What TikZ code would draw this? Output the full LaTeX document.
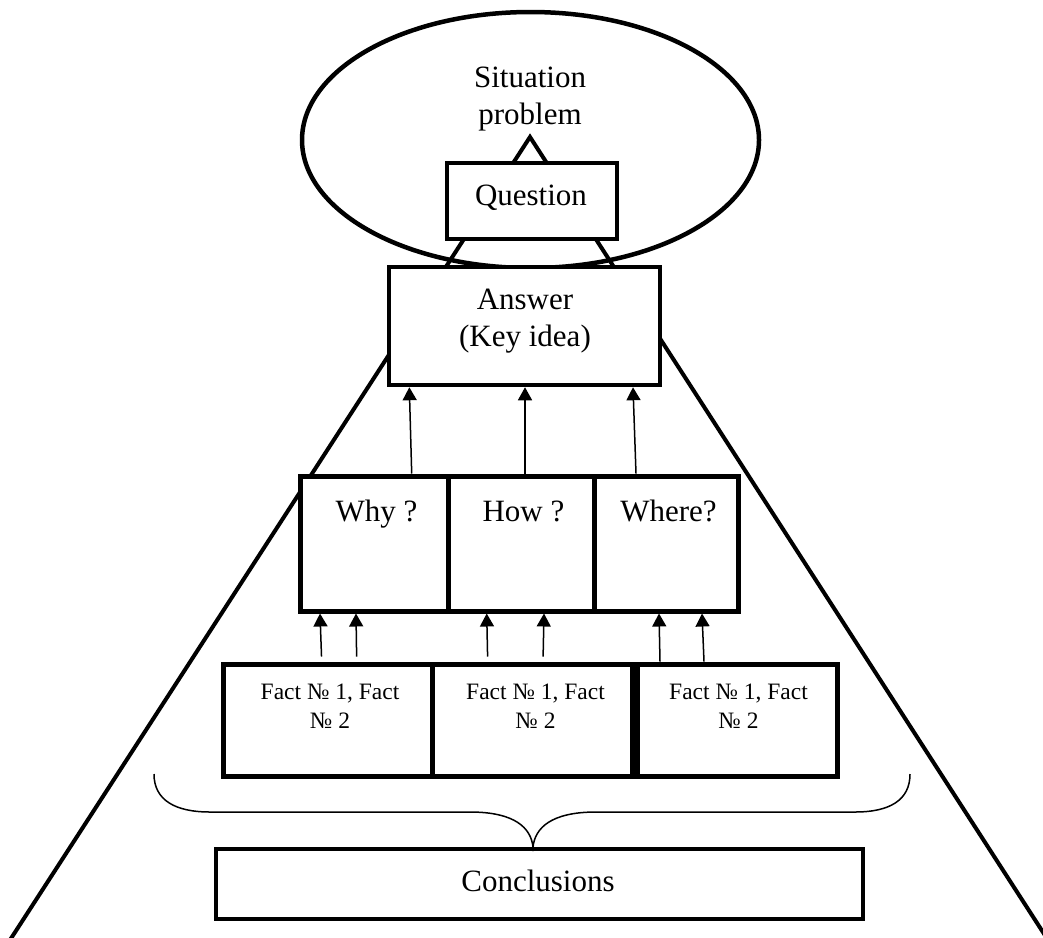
\documentclass[tikz,border=0pt]{standalone}
\usepackage{fontspec}
\setmainfont{Liberation Serif}
\usetikzlibrary{shapes.geometric,arrows.meta}
\tikzset{
  big/.style={font=\fontsize{31}{37.5}\selectfont, inner sep=0pt, align=center},
  small/.style={font=\fontsize{23.5}{29}\selectfont, inner sep=0pt, align=center},
  boxw/.style={draw, fill=white, line width=4.5pt, rectangle, inner sep=0pt},
  thin arrow/.style={line width=1.5pt, -{Triangle[length=13pt,width=14pt]}},
  frame line/.style={line width=4pt}
}
\begin{document}
\begin{tikzpicture}[x=1pt,y=-1pt]
\useasboundingbox (0,0) rectangle (1043,937);
\clip (0,0) rectangle (1043,937);
% big triangle behind everything
\coordinate (apex) at (530,137);
\coordinate (lfoot) at (10,940);
\coordinate (rfoot) at (1048,940);
\draw[frame line] (lfoot) -- (apex) -- (rfoot);
% ellipse
\node[draw, ellipse, line width=4.5pt, minimum width=457pt, minimum height=256pt, inner sep=0pt] (sit) at (530.5,140) {};
\node[big] (sittext) at (530,99) {Situation\\problem};
% question
\node[boxw, minimum width=170pt, minimum height=76pt] (question) at (532,201) {};
\node[big, anchor=base] (questiontext) at (531,205) {Question};
% answer
\node[boxw, minimum width=271pt, minimum height=118pt] (answer) at (524.5,326) {};
\node[big] (answertext) at (525,321) {Answer\\(Key idea)};
% why how where
\node[boxw, line width=5pt, minimum width=148pt, minimum height=135pt] (why) at (374,543.5) {};
\node[boxw, line width=5pt, minimum width=146pt, minimum height=135pt] (how) at (521,543.5) {};
\node[boxw, line width=5pt, minimum width=144pt, minimum height=135pt] (where) at (666,543.5) {};
\node[big, anchor=base] (whytext) at (376.5,521) {Why ?};
\node[big, anchor=base] (howtext) at (523.5,521) {How ?};
\node[big, anchor=base] (wheretext) at (668.5,521) {Where?};
% facts
\node[boxw, line width=5pt, minimum width=209pt, minimum height=112pt] (f1) at (327.5,720) {};
\node[boxw, line width=5pt, minimum width=200pt, minimum height=112pt] (f2) at (532,720) {};
\node[boxw, line width=5pt, minimum width=200pt, minimum height=112pt] (f3) at (737,720) {};
\node[small] (f1text) at (330,706.5) {Fact № 1, Fact\\№ 2};
\node[small] (f2text) at (535.5,706.5) {Fact № 1, Fact\\№ 2};
\node[small] (f3text) at (738.5,706.5) {Fact № 1, Fact\\№ 2};
% conclusions
\node[boxw, line width=4pt, minimum width=647pt, minimum height=70pt] (concl) at (539.5,884) {};
\node[big, anchor=base] (concltext) at (538,891) {Conclusions};
% arrows to answer
\draw[thin arrow] (411.7,0 |- why.north) -- (409.3,0 |- answer.south);
\draw[thin arrow] (525,0 |- how.north) -- (525,0 |- answer.south);
\draw[thin arrow] (636,0 |- where.north) -- (633,0 |- answer.south);
% arrows from facts
\draw[thin arrow, shorten <=5pt] (321.7,0 |- f1.north) -- (320,0 |- why.south);
\draw[thin arrow, shorten <=5pt] (356.7,0 |- f1.north) -- (356,0 |- why.south);
\draw[thin arrow, shorten <=5pt] (487.7,0 |- f2.north) -- (486.7,0 |- how.south);
\draw[thin arrow, shorten <=5pt] (543,0 |- f2.north) -- (544,0 |- how.south);
\draw[thin arrow] (660,0 |- f3.north) -- (659,0 |- where.south);
\draw[thin arrow] (704,0 |- f3.north) -- (702,0 |- where.south);
% brace
\coordinate (bl) at (154,774);
\coordinate (br) at (910,774);
\coordinate (btip) at (533,847);
\draw[line width=1.5pt] (bl) .. controls (154,800) and (175,812) .. (210,812)
  -- (470,812) .. controls (515,812) and (531,828) .. (btip)
  .. controls (535,828) and (551,812) .. (596,812)
  -- (855,812) .. controls (890,812) and (910,800) .. (br);
\end{tikzpicture}
\end{document}
